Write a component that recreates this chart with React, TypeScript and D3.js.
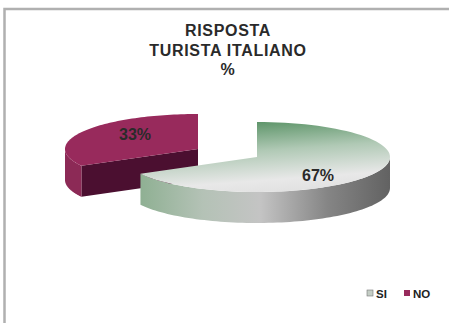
import React from "react";
import * as d3 from "d3";

const categories = ["SI", "NO"];
const shares = [67, 33];
const percentLabels = ["67%", "33%"];
const titleLines = ["RISPOSTA", "TURISTA ITALIANO", "%"];

const W = 449;
const H = 323;
const RX = 133;
const RY = 35;
const DEPTH = 31;
// Pie centres: the NO wedge is pulled away to the left and slightly up.
const centers = [
  { x: 257, y: 157 },
  { x: 198, y: 149 },
];
const labelPos = [
  { x: 318, y: 181 },
  { x: 135, y: 140 },
];

const pieAngles = d3.pie<number>().sort(null)(shares);

const rimPoint = (c: { x: number; y: number }, a: number, drop = 0): [number, number] => [
  c.x + RX * Math.sin(a),
  c.y - RY * Math.cos(a) + drop,
];

const sampleAngles = (a0: number, a1: number) => {
  const n = 80;
  return d3.range(n + 1).map((i) => a0 + ((a1 - a0) * i) / n);
};

const line = d3.line();

function topFace(c: { x: number; y: number }, a0: number, a1: number) {
  const pts = sampleAngles(a0, a1).map((a) => rimPoint(c, a));
  return line([[c.x, c.y], ...pts]) + "Z";
}

function outerWall(c: { x: number; y: number }, a0: number, a1: number) {
  const area = d3
    .area<number>()
    .x((a) => rimPoint(c, a)[0])
    .y0((a) => rimPoint(c, a)[1])
    .y1((a) => rimPoint(c, a, DEPTH)[1]);
  return area(sampleAngles(a0, a1)) as string;
}

function cutWall(c: { x: number; y: number }, a: number) {
  const p = rimPoint(c, a);
  return (
    line([
      [c.x, c.y],
      p,
      [p[0], p[1] + DEPTH],
      [c.x, c.y + DEPTH],
    ]) + "Z"
  );
}

const sans = "'Liberation Sans', Arial, sans-serif";

export default function App() {
  const [si, no] = pieAngles;
  const noCut = no.startAngle;
  return (
    <svg
      width={W}
      height={H}
      viewBox={`0 0 ${W} ${H}`}
      style={{ position: "absolute", left: 0, top: 0, background: "#fff" }}
    >
      <defs>
        <linearGradient id="siTop" x1="0.42" y1="0" x2="0.68" y2="1">
          <stop offset="0" stopColor="#5c9468" />
          <stop offset="0.4" stopColor="#b0c9b5" />
          <stop offset="0.8" stopColor="#e8e8e8" />
          <stop offset="1" stopColor="#e0e0e0" />
        </linearGradient>
        <linearGradient id="siSide" x1="0" y1="0" x2="1" y2="0">
          <stop offset="0" stopColor="#8fb093" />
          <stop offset="0.25" stopColor="#b4c2b6" />
          <stop offset="0.48" stopColor="#c4c4c4" />
          <stop offset="0.75" stopColor="#858585" />
          <stop offset="1" stopColor="#626262" />
        </linearGradient>
      </defs>

      {/* Frame: only the top and left edges are drawn */}
      <path d="M4.5,323V9H449" fill="none" stroke="#b0b0b0" strokeWidth={2.5} />

      <g
        fontFamily={sans}
        fontWeight="bold"
        fill="#2a2a2a"
        textAnchor="middle"
        fontSize={16}
        letterSpacing={0.7}
      >
        {titleLines.map((t, i) => (
          <text key={t} x={228} y={36 + i * 19.5}>
            {t}
          </text>
        ))}
      </g>

      {/* NO wedge sits behind the SI wedge */}
      <path d={cutWall(centers[1], noCut)} fill="#4b0f30" />
      <path d={outerWall(centers[1], noCut, (3 * Math.PI) / 2)} fill="#8c2a56" />
      <path d={topFace(centers[1], noCut, no.endAngle)} fill="#982a5c" />

      {/* SI wedge */}
      <path d={outerWall(centers[0], Math.PI / 2, si.endAngle)} fill="url(#siSide)" />
      <path d={topFace(centers[0], si.startAngle, si.endAngle)} fill="url(#siTop)" />

      <g fontFamily={sans} fontSize={16} fontWeight="bold" fill="#2a2a2a" textAnchor="middle">
        {percentLabels.map((t, i) => (
          <text key={t} x={labelPos[i].x} y={labelPos[i].y}>
            {t}
          </text>
        ))}
      </g>

      <g fontFamily={sans} fontSize={11.5} fill="#222" fontWeight="bold">
        {categories.map((c, i) => (
          <g key={c} transform={`translate(${[367, 404][i]},290)`}>
            <rect width={6} height={6} fill={["#c4cdc5", "#982a5c"][i]} stroke="#777" strokeWidth={i === 0 ? 0.6 : 0} />
            <text x={9} y={7.5}>
              {c}
            </text>
          </g>
        ))}
      </g>
    </svg>
  );
}
